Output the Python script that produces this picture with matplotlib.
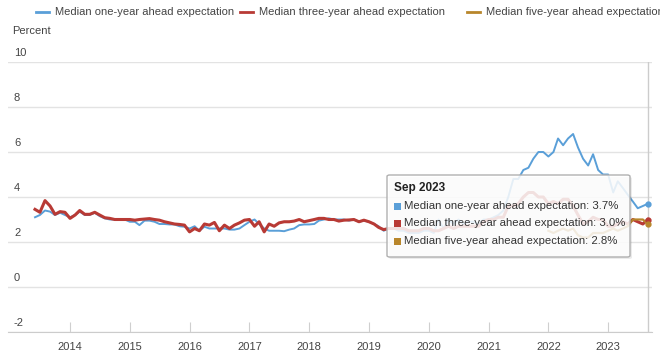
import matplotlib
matplotlib.use('Agg')
import matplotlib.pyplot as plt
import matplotlib.dates as mdates
import matplotlib.transforms as mtransforms
from matplotlib.patches import FancyBboxPatch, Rectangle
from matplotlib.lines import Line2D
import pandas as pd

plt.rcParams['font.family'] = ['Liberation Sans', 'DejaVu Sans']

# monthly survey dates
months = pd.date_range('2013-06-01', '2023-09-01', freq='MS')
five_months = pd.date_range('2022-01-01', '2023-09-01', freq='MS')
year_ticks = pd.date_range('2014-01-01', '2023-01-01', freq='YS')

one_year = [
    3.1, 3.2, 3.4, 3.35, 3.2, 3.3, 3.2,                                   # 2013
    3.1, 3.2, 3.35, 3.2, 3.2, 3.3, 3.15, 3.05, 3.0, 3.0, 3.0, 3.0,        # 2014
    2.9, 2.9, 2.75, 2.95, 2.95, 2.9, 2.8, 2.8, 2.78, 2.78, 2.7, 2.68,     # 2015
    2.6, 2.7, 2.5, 2.68, 2.6, 2.6, 2.6, 2.6, 2.55, 2.55, 2.6, 2.75,       # 2016
    2.9, 3.0, 2.8, 2.6, 2.5, 2.5, 2.5, 2.48, 2.55, 2.6, 2.75, 2.78,       # 2017
    2.78, 2.8, 2.95, 3.0, 3.05, 3.0, 3.0, 3.0, 2.95, 3.0, 2.9, 2.95,      # 2018
    2.9, 2.8, 2.7, 2.5, 2.6, 2.6, 2.5, 2.5, 2.4, 2.4, 2.4, 2.5,           # 2019
    2.5, 2.4, 3.0, 2.6, 3.0, 2.8, 3.0, 2.8, 2.9, 2.9, 2.8, 3.0,           # 2020
    3.0, 3.1, 3.2, 3.4, 4.0, 4.8, 4.8, 5.2, 5.3, 5.7, 6.0, 6.0,           # 2021
    5.8, 6.0, 6.6, 6.3, 6.6, 6.8, 6.2, 5.7, 5.4, 5.9, 5.2, 5.0,           # 2022
    5.0, 4.2, 4.7, 4.4, 4.1, 3.8, 3.5, 3.6, 3.7,                          # 2023
]

three_year = [
    3.45, 3.32, 3.84, 3.6, 3.23, 3.35, 3.32,                              # 2013
    3.05, 3.2, 3.4, 3.23, 3.23, 3.32, 3.2, 3.08, 3.05, 3.0, 3.0, 3.0,     # 2014
    3.0, 2.97, 3.0, 3.02, 3.04, 3.0, 2.97, 2.9, 2.85, 2.8, 2.78, 2.75,    # 2015
    2.45, 2.6, 2.5, 2.8, 2.75, 2.87, 2.5, 2.75, 2.6, 2.75, 2.85, 2.97,    # 2016
    3.0, 2.7, 2.9, 2.45, 2.8, 2.7, 2.85, 2.9, 2.9, 2.93, 3.0, 2.9,        # 2017
    2.95, 3.0, 3.05, 3.05, 3.0, 3.0, 2.93, 2.97, 2.98, 3.0, 2.9, 2.97,    # 2018
    2.9, 2.8, 2.65, 2.55, 2.6, 2.6, 2.6, 2.6, 2.5, 2.5, 2.5, 2.6,         # 2019
    2.6, 2.5, 2.5, 2.6, 2.7, 2.6, 2.7, 2.7, 2.7, 2.7, 2.7, 2.9,           # 2020
    3.0, 3.0, 3.1, 3.1, 3.6, 3.6, 3.7, 4.0, 4.2, 4.2, 4.0, 4.0,           # 2021
    3.7, 3.8, 3.7, 3.9, 3.9, 3.6, 3.2, 2.8, 2.9, 3.1, 3.0, 3.0,           # 2022
    2.7, 2.7, 2.8, 2.9, 2.8, 3.0, 2.9, 2.8, 3.0,                          # 2023
]

five_year = [
    2.5, 2.4, 2.5, 2.6, 2.5, 2.6, 2.3, 2.2, 2.2, 2.4, 2.4, 2.4,           # 2022
    2.5, 2.6, 2.5, 2.6, 2.7, 3.0, 3.0, 3.0, 2.8,                          # 2023
]

series_names = ['Median one-year ahead expectation',
                'Median three-year ahead expectation',
                'Median five-year ahead expectation']
colors = ['#5a9fd8', '#b83a35', '#b8862b']
yticks = [-2, 0, 2, 4, 6, 8, 10]

W, H = 660, 360
fig = plt.figure(figsize=(6.6, 3.6), dpi=100)
ax = fig.add_axes([8 / W, 28 / H, 644 / W, 270 / H])

ax.plot(months, one_year, color=colors[0], lw=1.4, zorder=2)
ax.plot(months, three_year, color=colors[1], lw=2.2, zorder=3)
ax.plot(five_months, five_year, color=colors[2], lw=1.6, zorder=4)
for xs, ys, c in [(months, one_year, colors[0]), (months, three_year, colors[1]),
                  (five_months, five_year, colors[2])]:
    ax.plot(xs[-1:], ys[-1:], 'o', color=c, ms=3.5, zorder=5)

ax.axvline(months[-1], color='#cccccc', lw=1, zorder=1)

ax.set_ylim(-2, 10)
ax.set_yticks(yticks)
ax.set_yticklabels([])
ax.tick_params(axis='y', length=0)
ax.grid(axis='y', color='#e3e3e3', lw=1)
ax.set_axisbelow(True)

ax.set_xlim(pd.Timestamp('2012-12-18'), pd.Timestamp('2023-09-26'))
ax.set_xticks(year_ticks)
ax.xaxis.set_major_formatter(mdates.DateFormatter('%Y'))
ax.tick_params(axis='x', direction='in', length=7, color='#cfcfcf',
               labelcolor='#444444', labelsize=8, pad=7)

for s in ['left', 'top', 'right']:
    ax.spines[s].set_visible(False)
ax.spines['bottom'].set_color('#cccccc')

# y labels sit above their gridlines
ytrans = mtransforms.offset_copy(ax.get_yaxis_transform(), fig=fig, x=0, y=9, units='dots')
for v in yticks:
    ax.text(6 / 644, v, str(v), transform=ytrans, ha='left', va='center',
            fontsize=8, color='#444444')

fig.text(12 / W, 1 - 31 / H, 'Percent', fontsize=8, color='#444444', va='center')

# legend along the top
leg_x = [36, 240, 467]
for x0, name, c in zip(leg_x, series_names, colors):
    fig.add_artist(Line2D([x0 / W, (x0 + 13) / W], [1 - 12 / H] * 2,
                          transform=fig.transFigure, color=c, lw=2))
    fig.text((x0 + 19) / W, 1 - 12 / H, name, fontsize=8, color='#444444', va='center')

# hover tooltip
tx, ty, tw, th = 387, 175, 243, 82
shadow = FancyBboxPatch(((tx + 2) / W, 1 - (ty + th + 2) / H), tw / W, th / H,
                        boxstyle='round,pad=0,rounding_size=0.004',
                        transform=fig.transFigure, fc=(0, 0, 0, 0.08), ec='none', zorder=5)
box = FancyBboxPatch((tx / W, 1 - (ty + th) / H), tw / W, th / H,
                     boxstyle='round,pad=0,rounding_size=0.004',
                     transform=fig.transFigure, fc=(1, 1, 1, 0.85), ec='#b0b0b0',
                     lw=1, zorder=6)
fig.add_artist(shadow)
fig.add_artist(box)
fig.text(394 / W, 1 - 188 / H, 'Sep 2023', fontsize=8.5, weight='bold',
         color='#222222', va='center', zorder=7)
tip_vals = [one_year[-1], three_year[-1], five_year[-1]]
for i, (name, c, v) in enumerate(zip(series_names, colors, tip_vals)):
    yc = 206 + i * 17.5
    fig.add_artist(Rectangle((394 / W, 1 - (yc + 3.5) / H), 7 / W, 7 / H,
                             transform=fig.transFigure, fc=c, ec='none', zorder=7))
    fig.text(404 / W, 1 - yc / H, f'{name}: {v:.1f}%', fontsize=8.2,
             color='#333333', va='center', zorder=7)

fig.savefig('out.png', dpi=100)
